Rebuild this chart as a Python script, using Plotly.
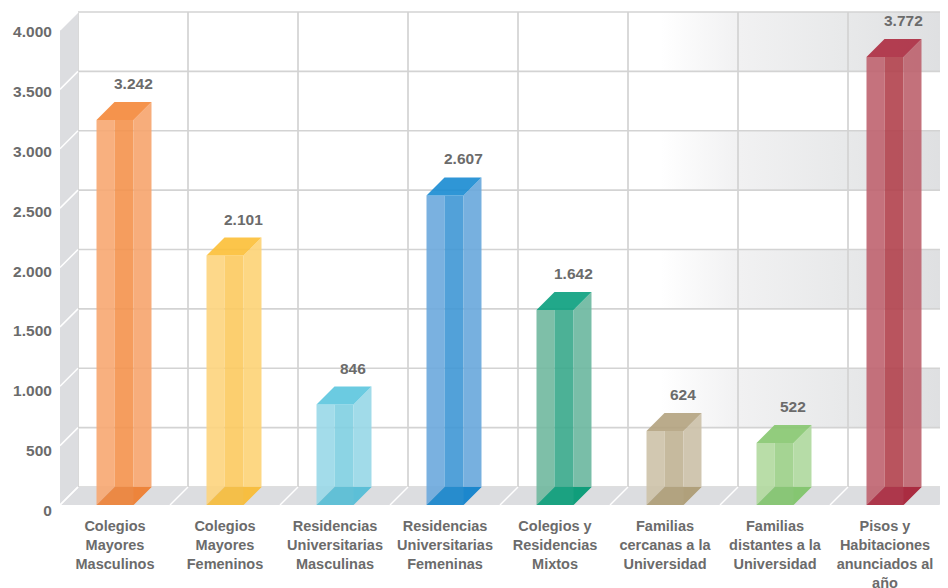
import plotly.graph_objects as go

# ---------------- data ----------------
categories = [
    "Colegios<br>Mayores<br>Masculinos",
    "Colegios<br>Mayores<br>Femeninos",
    "Residencias<br>Universitarias<br>Masculinas",
    "Residencias<br>Universitarias<br>Femeninas",
    "Colegios y<br>Residencias<br>Mixtos",
    "Familias<br>cercanas a la<br>Universidad",
    "Familias<br>distantes a la<br>Universidad",
    "Pisos y<br>Habitaciones<br>anunciados al<br>año",
]
values = [3242, 2101, 846, 2607, 1642, 624, 522, 3772]
y_ticks = [0, 500, 1000, 1500, 2000, 2500, 3000, 3500, 4000]
gradient_bands = [500, 1500, 2500, 3500]   # lower bound of shaded wall bands

# ---------------- styles ----------------
# (left strip, middle strip, right strip, top face, bottom face)
palette = [
    ("#f8b07f", "#f59d5f", "#f7ad7c", "#f5934c", "#ee8c48"),
    ("#fdd88a", "#fccf6f", "#fdd783", "#fcc54a", "#f7c24c"),
    ("#a3dcea", "#8dd4e4", "#a1dbe9", "#6bcbe1", "#65c4d9"),
    ("#7ab2e0", "#52a1d9", "#77b0df", "#2f97d6", "#2b8fd0"),
    ("#7ebfa8", "#4db197", "#79bea8", "#22a98a", "#1ea585"),
    ("#d2c8b2", "#c6ba9f", "#d0c6b0", "#baab8b", "#b5a684"),
    ("#b9dda9", "#a5d493", "#b6dca7", "#92cc7d", "#8dc97a"),
    ("#c5737d", "#b9545f", "#c4727c", "#b43f52", "#b03b4f"),
]
ALPHA = 0.9
TEXT = "#6b6b6b"
WALL = "#dcdde0"
GRID = "#d3d3d3"
FONT = "Liberation Sans"

# geometry (pixel scale -> data units); page has an 8px body margin
FIG_W, FIG_H = 940, 580
PX_CAT = 110.0
PX_UNIT = 0.11875
DX = 18 / PX_CAT
DY = 18 / PX_UNIT
HW = 18.5 / PX_CAT
X0 = -0.5
X1 = X0 + 888 / PX_CAT
FLOOR = 497          # paper y of the front zero line
PLOT_H = 512
Y_LO = (FLOOR - PLOT_H) / PX_UNIT
Y_HI = FLOOR / PX_UNIT
LBL_UNIT = 0.11957
LBL_ZERO = 502.3


def rgba(hexc, a=ALPHA):
    h = hexc.lstrip("#")
    out = []
    for k in (0, 2, 4):
        c = int(h[k:k + 2], 16)
        v = 255 - (255 - c) / a
        out.append(max(0, min(255, round(v))))
    return f"rgba({out[0]},{out[1]},{out[2]},{a})"


def poly(pts, color, **kw):
    xs = [p[0] for p in pts] + [pts[0][0]]
    ys = [p[1] for p in pts] + [pts[0][1]]
    return go.Scatter(x=xs, y=ys, mode="lines", fill="toself", fillcolor=color,
                      line=dict(width=0), hoverinfo="skip", showlegend=False, **kw)


fig = go.Figure()

# back wall gradient bands
for b in gradient_bands:
    xs = [X0 + DX, X1, X1, X0 + DX, X0 + DX]
    ys = [b + DY, b + DY, b + 500 + DY, b + 500 + DY, b + DY]
    fig.add_trace(go.Scatter(
        x=xs, y=ys, mode="lines", fill="toself", line=dict(width=0),
        fillgradient=dict(type="horizontal",
                          colorscale=[[0, "#ffffff"], [0.67, "#ffffff"],
                                      [0.76, "#f1f1f2"], [0.88, "#e8e9ea"],
                                      [1, "#dedfe1"]]),
        hoverinfo="skip", showlegend=False))

# back wall grid lines
gx, gy = [], []
for t in y_ticks:
    gx += [X0 + DX, X1 + 1, None]
    gy += [t + DY, t + DY, None]
for k in range(10):
    xv = X0 + k + DX
    gx += [xv, xv, None]
    gy += [DY, y_ticks[-1] + DY, None]
fig.add_trace(go.Scatter(x=gx, y=gy, mode="lines", line=dict(color=GRID, width=1.7),
                         hoverinfo="skip", showlegend=False))

# left wall
fig.add_trace(poly([(X0, 0), (X0, y_ticks[-1]), (X0 + DX, y_ticks[-1] + DY), (X0 + DX, DY)], WALL))
# floor
fig.add_trace(poly([(X0, 0), (X0 + DX, DY), (X1 + 1, DY), (X1 + 1, 0)], WALL))

# white diagonals on wall and floor
wx, wy = [], []
for t in y_ticks:
    wx += [X0, X0 + DX, None]
    wy += [t, t + DY, None]
for k in range(10):
    xv = X0 + k
    wx += [xv, xv + DX, None]
    wy += [0, DY, None]
fig.add_trace(go.Scatter(x=wx, y=wy, mode="lines", line=dict(color="white", width=1.5),
                         hoverinfo="skip", showlegend=False))

# bars
for i, v in enumerate(values):
    cl, cm, cr, ct, cb = palette[i]
    L, R = i - HW, i + HW
    fig.add_trace(poly([(L, v), (L + DX, v), (L + DX, DY), (L, 0)], rgba(cl)))
    fig.add_trace(poly([(L + DX, v), (R, v), (R, DY), (L + DX, DY)], rgba(cm)))
    fig.add_trace(poly([(R, v), (R + DX, v + DY), (R + DX, DY), (R, 0)], rgba(cr)))
    fig.add_trace(poly([(L, v), (R, v), (R + DX, v + DY), (L + DX, v + DY)], rgba(ct)))
    fig.add_trace(poly([(L, 0), (R, 0), (R + DX, DY), (L + DX, DY)], rgba(cb)))
    fig.add_annotation(x=i + DX, y=v + DY, text=f"{v:,}".replace(",", "."),
                       showarrow=False, yanchor="bottom", yshift=8,
                       font=dict(family=FONT, size=15.5, color=TEXT, weight="bold"))

# invisible trace to carry the label axis
fig.add_trace(go.Scatter(x=[0], y=[0], yaxis="y2", mode="markers",
                         marker=dict(opacity=0), hoverinfo="skip", showlegend=False))

fig.update_layout(
    width=FIG_W, height=FIG_H,
    margin=dict(l=52, r=0, t=0, b=FIG_H - PLOT_H, autoexpand=False),
    paper_bgcolor="white", plot_bgcolor="white",
    separators=",.",
    showlegend=False,
    xaxis=dict(range=[X0, X1], tickvals=list(range(len(categories))), ticktext=categories,
               showgrid=False, zeroline=False, showline=False, automargin=False,
               anchor="free", position=(PLOT_H - FLOOR) / PLOT_H,
               ticks="outside", ticklen=8, tickcolor="rgba(0,0,0,0)",
               tickfont=dict(family=FONT, size=14.5, color=TEXT, weight="bold")),
    yaxis=dict(range=[Y_LO, Y_HI], visible=False, showgrid=False, zeroline=False,
               automargin=False),
    yaxis2=dict(overlaying="y", side="left", anchor="x", automargin=False,
                range=[(LBL_ZERO - PLOT_H) / LBL_UNIT, LBL_ZERO / LBL_UNIT],
                tickvals=y_ticks, tickformat=",d",
                showgrid=False, zeroline=False, showline=False,
                ticks="outside", ticklen=4, tickcolor="rgba(0,0,0,0)",
                tickfont=dict(family=FONT, size=15.5, color=TEXT, weight="bold")),
)

fig.write_html("out.html")
